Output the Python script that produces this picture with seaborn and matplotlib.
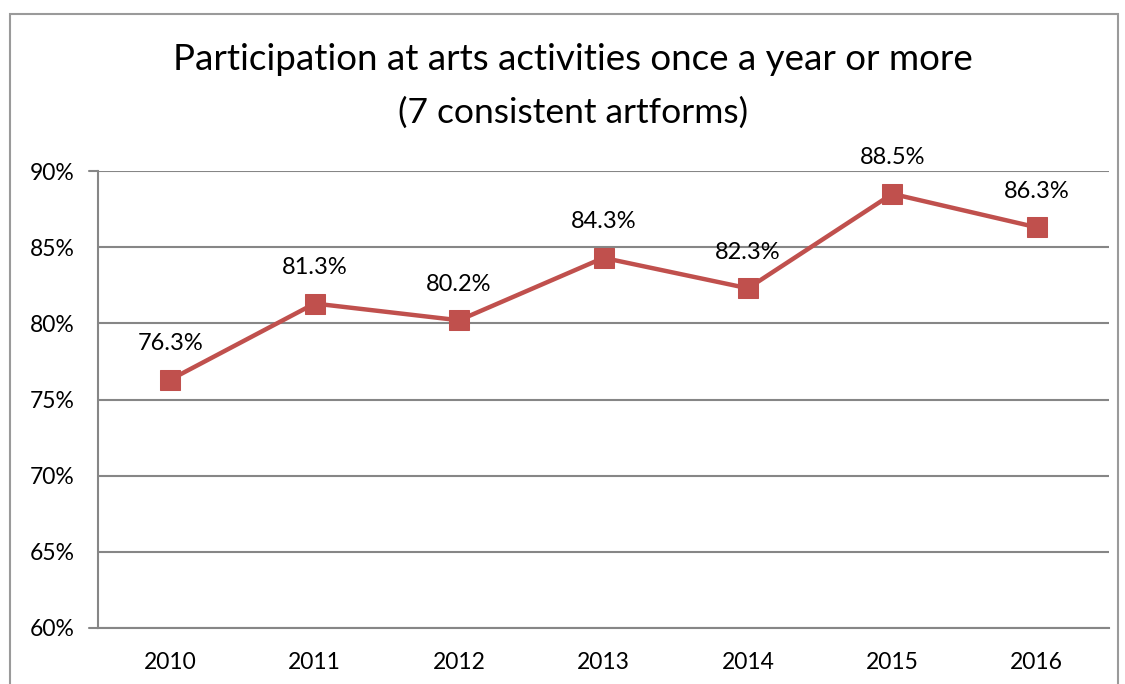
import pandas as pd
import numpy as np
import matplotlib
matplotlib.use("Agg")
import matplotlib.pyplot as plt
from matplotlib.patches import Rectangle
import seaborn as sns

years = ["2010", "2011", "2012", "2013", "2014", "2015", "2016"]
participation = [76.3, 81.3, 80.2, 84.3, 82.3, 88.5, 86.3]
y_ticks = [60, 65, 70, 75, 80, 85, 90]

sns.set_style("white")
plt.rcParams['font.family'] = ['Lato', 'DejaVu Sans']

df = pd.DataFrame({"year": years, "value": participation})

fig = plt.figure(figsize=(11.25, 6.84), dpi=100)
ax = fig.add_axes([98 / 1125, 1 - 628 / 684, (1109 - 98) / 1125, (628 - 171) / 684])

# outer chart border
fig.patches.append(Rectangle((10 / 1125, -0.05), (1118 - 10) / 1125, 1.05 - 14 / 684,
                             transform=fig.transFigure, fill=False,
                             edgecolor="#9a9a9a", linewidth=1.5))

sns.lineplot(data=df, x="year", y="value", ax=ax, color="#C0504D", linewidth=3.2,
             marker="s", markersize=14, markeredgecolor="#C0504D", sort=False)

for i, v in enumerate(participation):
    ax.annotate(f"{v:.1f}%", (i, v), xytext=(0, 26), textcoords="offset points",
                ha="center", va="center", fontsize=17, color="black")

ax.set_xlim(-0.5, len(years) - 0.5)
ax.set_ylim(60, 90)
ax.set_yticks(y_ticks)
ax.set_yticklabels([f"{t}%" for t in y_ticks], fontsize=16.5, color="black")
ax.set_xticks(range(len(years)))
ax.set_xticklabels(years, fontsize=16.5, color="black")
ax.tick_params(axis="x", length=0, pad=17)
ax.tick_params(axis="y", length=0, pad=17)
ax.set_xticks(np.arange(-0.5, len(years)), minor=True)
ax.tick_params(axis="x", which="minor", length=8, color="#868686", width=1.5, direction="out")
ax.set_xlabel("")
ax.set_ylabel("")

for t in y_ticks:
    ax.axhline(t, xmin=0, xmax=1, color="#868686", linewidth=1.5, zorder=0)
ax.plot([-0.56, -0.5], [60, 60], color="#868686", linewidth=1.5, clip_on=False)
ax.plot([-0.56, -0.5], [90, 90], color="#868686", linewidth=1.5, clip_on=False)

for s in ["top", "right"]:
    ax.spines[s].set_visible(False)
for s in ["left", "bottom"]:
    ax.spines[s].set_color("#868686")
    ax.spines[s].set_linewidth(1.5)

fig.text(573 / 1125, 1 - 60 / 684, "Participation at arts activities once a year or more",
         ha="center", va="center", fontsize=26.5, color="black")
fig.text(573 / 1125, 1 - 113 / 684, "(7 consistent artforms)",
         ha="center", va="center", fontsize=25.5, color="black")

fig.savefig("out.png", dpi=100)
